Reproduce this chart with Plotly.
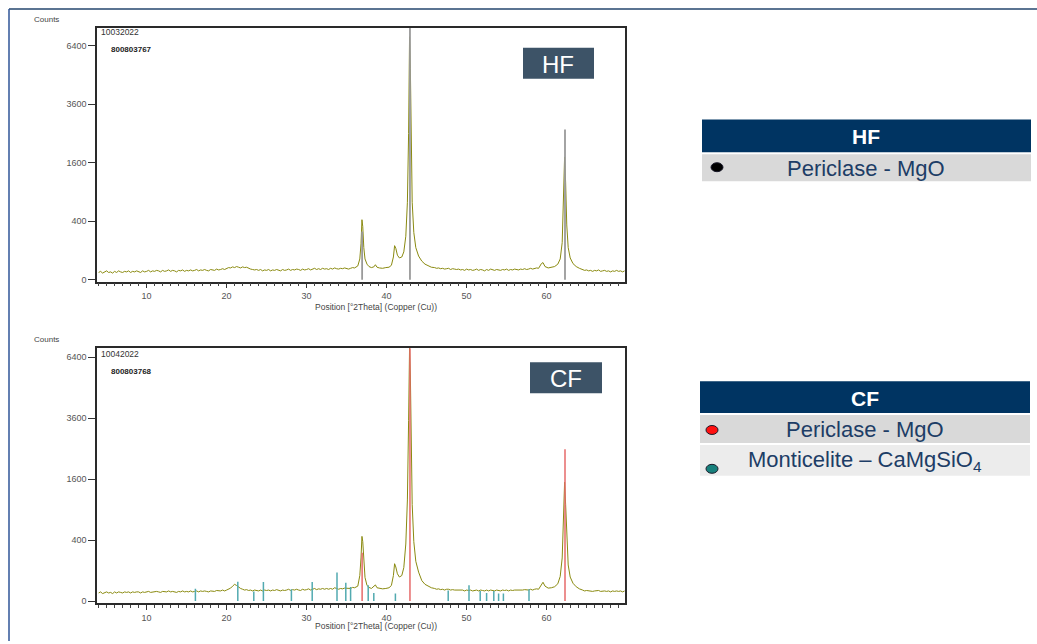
import numpy as np
import plotly.graph_objects as go

W, H = 1037, 644

# ---------------- data ----------------
# sampling grids (°2Theta) of the background stretches
grid_a = [round(v, 2) for v in np.arange(4.0, 36.001, 0.25)]
grid_b = [round(v, 2) for v in np.arange(46.0, 59.001, 0.25)]
grid_c = [round(v, 2) for v in np.arange(64.5, 69.751, 0.25)]
peak1_theta = [36.4, 36.65, 36.8, 36.92, 37.02, 37.15, 37.3, 37.55, 37.8, 38.1, 38.4, 38.6, 38.8, 39.1,
               39.5, 39.9, 40.3, 40.6, 40.85, 41.0, 41.15, 41.35, 41.6, 41.9, 42.15, 42.4, 42.6, 42.75,
               42.87, 42.97, 43.08, 43.2, 43.4, 43.65, 44.0, 44.4, 44.8, 45.2, 45.6]
peak2_theta = [59.35, 59.55, 59.8, 60.2, 60.6, 61.0, 61.4, 61.7, 61.95, 62.12, 62.25, 62.38, 62.52,
               62.7, 62.95, 63.3, 63.7, 64.1]

# HF sample (counts)
hf_bg_a = [6, 8, 5, 7, 9, 6, 7, 5, 8, 6, 9, 7, 6, 8, 7, 9, 6, 8, 7, 9, 8, 6, 9, 7,
           8, 10, 7, 9, 8, 10, 9, 7, 10, 8, 9, 11, 8, 10, 9, 7, 10, 9, 11, 8, 10, 9, 11, 9,
           10, 12, 9, 11, 10, 12, 10, 9, 12, 11, 10, 13, 11, 12, 14, 12,
           15, 17, 16, 19, 17, 20, 18, 16, 19, 17, 18, 15, 13, 12, 11, 12,
           10, 12, 9, 11, 10, 12, 9, 11, 10, 12, 11, 9, 12, 10, 11, 13, 10, 12, 11, 13, 12, 10, 13, 11,
           12, 14, 11, 13, 15, 12, 14, 12, 15, 13, 14, 12, 15, 13, 16, 14, 13, 15, 14, 16, 14, 13, 15, 17, 16]
hf_peak1 = [22, 50, 150, 420, 330, 120, 50, 28, 20, 17, 19, 26, 18, 16,
            15, 17, 18, 24, 60, 135, 115, 70, 55, 60, 90, 220, 700, 2500,
            6900, 5200, 2000, 700, 260, 120, 65, 40, 28, 22, 18]
hf_bg_b = [17, 15, 16, 14, 15, 13, 14, 15, 12, 14, 13, 12,
           13, 11, 12, 10, 13, 11, 12, 10, 11, 13, 10, 12, 11, 9, 12, 10, 13, 11, 10, 12,
           11, 10, 12, 11, 13, 10, 12, 11, 13, 12, 11, 13, 12, 14, 12, 13, 15, 13, 14, 16, 15]
hf_peak2 = [30, 34, 20, 16, 17, 20, 28, 50, 160, 700, 1760, 1100, 350, 120, 55, 30, 20, 15]
hf_bg_c = [12, 10, 11, 9, 10, 8, 10, 9, 11, 8, 9, 10, 8, 9, 7, 9, 8, 10, 8, 9, 7, 9]

# CF sample (counts)
cf_bg_a = [7, 9, 6, 8, 9, 7, 8, 6, 9, 7, 9, 8, 7, 9, 8, 9, 7, 9, 8, 9, 9, 7, 9, 8,
           9, 10, 8, 9, 9, 10, 9, 8, 10, 9, 9, 11, 9, 10, 9, 8, 10, 9, 11, 9, 10, 9, 11, 9,
           10, 11, 9, 11, 10, 11, 10, 9, 11, 11, 10, 12, 11, 11, 13, 11,
           13, 15, 18, 24, 30, 26, 21, 17, 15, 13, 14, 12, 13, 11, 13, 12,
           11, 13, 11, 13, 12, 13, 11, 13, 12, 14, 13, 11, 13, 12, 13, 15, 12, 14, 13, 15, 13, 12, 15, 13,
           14, 16, 13, 15, 17, 14, 16, 15, 17, 15, 17, 15, 17, 15, 19, 17, 15, 17, 16, 18, 17, 16, 17, 20, 19]
cf_peak1 = [24, 70, 200, 450, 380, 140, 60, 26, 20, 17, 22, 28, 19, 17,
            16, 17, 19, 26, 70, 150, 125, 80, 62, 70, 120, 350, 1100, 3500,
            6900, 5500, 2600, 1000, 380, 170, 90, 45, 30, 23, 19]
cf_bg_b = [17, 15, 16, 14, 15, 13, 15, 15, 13, 14, 13, 13,
           13, 12, 13, 11, 13, 12, 13, 11, 12, 13, 11, 13, 12, 11, 13, 11, 13, 12, 11, 13,
           12, 11, 13, 12, 13, 11, 13, 12, 13, 13, 12, 13, 13, 14, 13, 13, 15, 13, 15, 16, 15]
cf_peak2 = [32, 38, 24, 18, 19, 22, 32, 65, 200, 800, 1520, 1000, 380, 140, 62, 34, 22, 16]
cf_bg_c = [13, 11, 12, 11, 11, 10, 11, 11, 12, 10, 11, 11, 10, 11, 9, 11, 10, 11, 10, 11, 9, 11]

# Periclase - MgO reference lines
hf_periclase_pos = [36.94, 42.92, 62.30]
hf_periclase_int = [270, 8000, 2640]
cf_periclase_pos = [36.94, 42.92, 62.30]
cf_periclase_int = [250, 8000, 2480]

# Monticelite - CaMgSiO4 reference lines (CF)
mont_pos = [16.1, 21.4, 23.4, 24.6, 28.1, 30.7, 33.8, 34.9, 35.5, 37.7, 38.4, 41.1,
            47.7, 50.3, 51.7, 52.5, 53.4, 54.0, 54.6, 57.8]
mont_int = [16, 40, 10, 39, 15, 39, 88, 36, 21, 27, 7, 6,
            12, 27, 11, 7, 11, 6, 6, 15]

ytick_counts = [0, 400, 1600, 3600, 6400]
xtick_vals = [10, 20, 30, 40, 50, 60]

theta = grid_a + peak1_theta + grid_b + peak2_theta + grid_c
hf_counts = hf_bg_a + hf_peak1 + hf_bg_b + hf_peak2 + hf_bg_c
cf_counts = cf_bg_a + cf_peak1 + cf_bg_b + cf_peak2 + cf_bg_c

# ---------------- helpers ----------------
def px(x):
    return x / W

def py(y):
    return 1 - y / H

def sticks(pos, inten):
    xs, ys = [], []
    for p, v in zip(pos, inten):
        xs += [p, p, None]
        ys += [0, float(np.sqrt(v)), None]
    return xs, ys

FONT = "Liberation Sans, Arial, sans-serif"
LINE = "#8a8a10"

fig = go.Figure()

# HF pattern
fig.add_trace(go.Scatter(x=theta, y=np.sqrt(hf_counts), mode="lines",
                         line=dict(color=LINE, width=1), xaxis="x", yaxis="y",
                         showlegend=False, hoverinfo="skip"))
sx, sy = sticks(hf_periclase_pos, hf_periclase_int)
fig.add_trace(go.Scatter(x=sx, y=sy, mode="lines", line=dict(color="#9a9a9a", width=1.8),
                         xaxis="x", yaxis="y", showlegend=False, hoverinfo="skip"))

# CF pattern
fig.add_trace(go.Scatter(x=theta, y=np.sqrt(cf_counts), mode="lines",
                         line=dict(color=LINE, width=1), xaxis="x2", yaxis="y2",
                         showlegend=False, hoverinfo="skip"))
sx, sy = sticks(mont_pos, mont_int)
fig.add_trace(go.Scatter(x=sx, y=sy, mode="lines", line=dict(color="#52aab0", width=1.5),
                         xaxis="x2", yaxis="y2", showlegend=False, hoverinfo="skip"))
sx, sy = sticks(cf_periclase_pos, cf_periclase_int)
fig.add_trace(go.Scatter(x=sx, y=sy, mode="lines", line=dict(color="#e66a6a", width=1.5),
                         xaxis="x2", yaxis="y2", showlegend=False, hoverinfo="skip"))

# ---------------- axes ----------------
xcommon = dict(range=[3.8, 69.8], tickvals=xtick_vals, ticks="outside", ticklen=5, tickwidth=1,
               tickcolor="#333", showline=True, mirror=True, linecolor="#2a2a2a", linewidth=1.5,
               showgrid=False, zeroline=False, tickfont=dict(size=9, color="#555", family=FONT),
               minor=dict(dtick=1, ticks="outside", ticklen=3, tickcolor="#444", showgrid=False))
ycommon = dict(tickvals=[float(np.sqrt(v)) for v in ytick_counts],
               ticktext=[str(v) for v in ytick_counts], ticks="outside", ticklen=7, tickwidth=1,
               tickcolor="#333", showline=True, mirror=True, linecolor="#2a2a2a", linewidth=1.5,
               showgrid=False, zeroline=False, tickfont=dict(size=9, color="#555", family=FONT))

fig.update_layout(
    width=W, height=H, margin=dict(l=0, r=0, t=0, b=0),
    paper_bgcolor="white", plot_bgcolor="white",
    xaxis=dict(domain=[px(97), px(625)], anchor="y", **xcommon),
    yaxis=dict(domain=[py(283), py(28)], anchor="x", range=[-0.7, 86.1], **ycommon),
    xaxis2=dict(domain=[px(97), px(625)], anchor="y2", **xcommon),
    yaxis2=dict(domain=[py(606), py(350)], anchor="x2", range=[-0.7, 82.9], **ycommon),
)

shapes = []
ann = []

# slide frame
shapes.append(dict(type="line", xref="paper", yref="paper", x0=px(9), x1=1, y0=py(9), y1=py(9),
                   line=dict(color="#24466e", width=1.5)))
shapes.append(dict(type="line", xref="paper", yref="paper", x0=px(9), x1=px(9), y0=py(9), y1=0,
                   line=dict(color="#2f5597", width=1.5)))

def txt(x, y, s, size, color="#333", bold=False, xanchor="center", family=FONT):
    if bold:
        s = "<b>" + s + "</b>"
    ann.append(dict(xref="paper", yref="paper", x=px(x), y=py(y), text=s, showarrow=False,
                    xanchor=xanchor, yanchor="middle", font=dict(size=size, color=color, family=family)))

# plot texts
for top, code_y, code, sample_y, sample, xt in [(20, 32, "10032022", 50, "800803767", 308),
                                                 (341, 356, "10042022", 373, "800803768", 629)]:
    txt(32, top, "Counts", 8, "#444", xanchor="left")
    txt(99, code_y, code, 8.5, "#333", xanchor="left")
    txt(109, sample_y, sample, 8, "#222", bold=True, xanchor="left")
    txt(376, xt, "Position [°2Theta] (Copper (Cu))", 8.5, "#444")

# HF / CF label boxes
for (x0, y0, x1, y1, s) in [(523, 48, 594, 79, "HF"), (530, 364, 602, 395, "CF")]:
    shapes.append(dict(type="rect", xref="paper", yref="paper", x0=px(x0), x1=px(x1), y0=py(y1), y1=py(y0),
                       fillcolor="#3d5367", line=dict(width=0)))
    txt((x0 + x1) / 2, (y0 + y1) / 2 + 1, s, 24, "white")

# legend tables
NAVY = "#003462"
TXT = "#1d3d66"
def rect(x0, y0, x1, y1, fill):
    shapes.append(dict(type="rect", xref="paper", yref="paper", x0=px(x0), x1=px(x1), y0=py(y1), y1=py(y0),
                       fillcolor=fill, line=dict(width=0)))

def dot(cx, cy, fill, rx=6, ry=4.5):
    shapes.append(dict(type="circle", xref="paper", yref="paper", x0=px(cx - rx), x1=px(cx + rx),
                       y0=py(cy + ry), y1=py(cy - ry), fillcolor=fill, line=dict(color="#1a1a2a", width=1)))

# HF table
rect(702, 120, 1031, 153, NAVY)
txt(866, 137, "HF", 21, "white", bold=True)
rect(702, 155, 1031, 182, "#d9d9d9")
dot(717, 168, "#000000")
txt(866, 169, "Periclase - MgO", 22, TXT)

# CF table
rect(700, 383, 1030, 415, NAVY)
txt(865, 400, "CF", 21, "white", bold=True)
rect(700, 417, 1030, 445, "#d9d9d9")
dot(712, 432, "#ff1010")
txt(865, 432, "Periclase - MgO", 22, TXT)
rect(700, 447, 1030, 478, "#ececec")
dot(712, 471, "#17807c")
txt(865, 463, "Monticelite – CaMgSiO<sub>4</sub>", 22, TXT)

fig.update_layout(shapes=shapes, annotations=ann)
fig.write_html("out.html", config={"displayModeBar": False},
               post_script="document.body.style.margin='0px';document.body.style.overflow='hidden';")
